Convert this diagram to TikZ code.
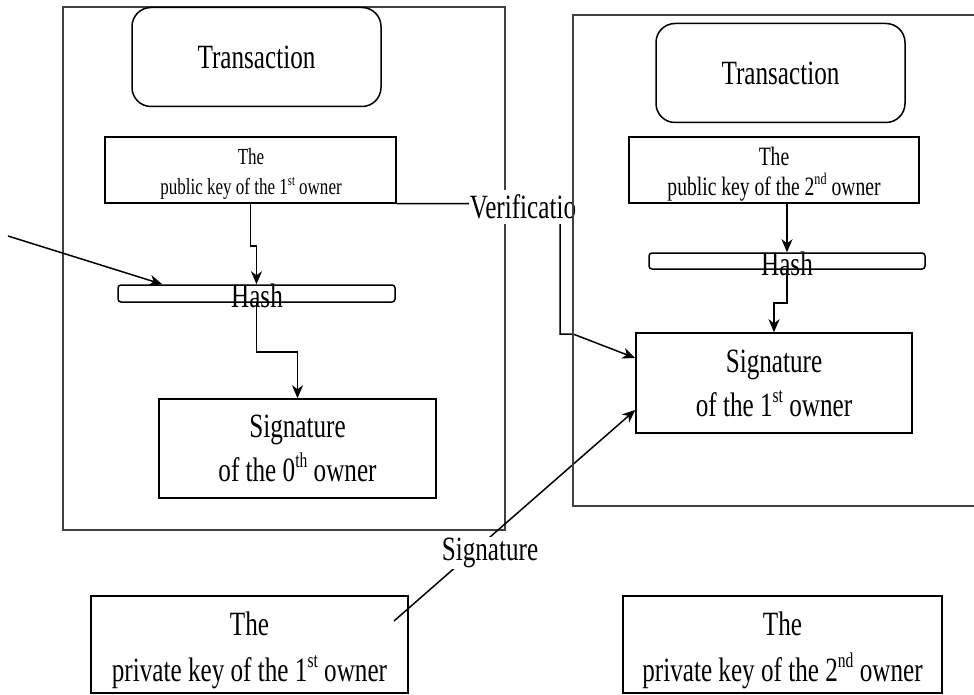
\documentclass[tikz,border=0pt]{standalone}
\usepackage{graphicx}
\usepackage{fontspec}
\setmainfont{Liberation Serif}[FakeStretch=0.74]
\usetikzlibrary{arrows.meta}
\newcommand\upx[1]{\raisebox{0.4em}{\scalebox{0.62}{#1}}}
\begin{document}
\begin{tikzpicture}[x=1pt,y=-1pt,
  frame/.style={draw=black!75, line width=1.1pt, inner sep=0pt},
  box/.style={draw, line width=1.5pt, inner sep=0pt, align=center},
  rbox/.style={box, rounded corners=19pt},
  hbox/.style={draw, line width=1.5pt, rounded corners=3pt, inner sep=0pt},
  arr/.style={line width=1.5pt, -{Stealth[length=13pt,width=11pt,inset=4pt]}},
  big/.style={font=\fontsize{34}{44}\selectfont},
  txt/.style={inner sep=0pt, align=center},
  lbl/.style={big, fill=white, inner sep=1pt}
]
\useasboundingbox (0,0) rectangle (974,695);
\node[frame, minimum width=442pt, minimum height=523pt] (outerL) at (284,268.5) {};
\node[rbox, minimum width=249pt, minimum height=99pt, big] (transL) at (256.5,57) {Transaction};
\node[rbox, minimum width=249pt, minimum height=99pt, big] (transR) at (780.5,73) {Transaction};
\node[box, minimum width=291pt, minimum height=66pt] (pubL) at (250.5,170) {};
\node[txt, font=\fontsize{23}{30}\selectfont] (pubLt) at (251,174) {The\\public key of the 1\upx{st} owner};
\node[box, minimum width=290pt, minimum height=66pt] (pubR) at (774,170) {};
\node[txt, font=\fontsize{26.5}{30}\selectfont] (pubRt) at (774,174) {The\\public key of the 2\upx{nd} owner};
\node[hbox, minimum width=277pt, minimum height=17pt] (hashL) at (256.5,293.5) {};
\node[hbox, minimum width=276pt, minimum height=16pt] (hashR) at (787,261) {};
\node[big, inner sep=0pt] (hashLt) at (257,296) {Hash};
\node[big, inner sep=0pt] (hashRt) at (787,264) {Hash};
\node[box, minimum width=277pt, minimum height=99pt, big] (sigL) at (297.5,448.5) {Signature\\of the 0\upx{th} owner};
\node[box, minimum width=276pt, minimum height=100pt, big] (sigR) at (774,383) {Signature\\of the 1\upx{st} owner};
\node[box, minimum width=317pt, minimum height=97pt] (privL) at (249.5,644.5) {};
\node[txt, font=\fontsize{34}{46}\selectfont] (privLt) at (249.5,650) {The\\private key of the 1\upx{st} owner};
\node[box, minimum width=319pt, minimum height=97pt] (privR) at (782.5,644.5) {};
\node[txt, font=\fontsize{34}{46}\selectfont] (privRt) at (782.5,650) {The\\private key of the 2\upx{nd} owner};
% connectors
\coordinate (inL) at (8,236);
\draw[arr] (inL) -- ([xshift=45pt]hashL.north west);
\draw[arr] (pubL.south) -- ++(0,42) -| (hashL.north);
\draw[arr] (hashL.south) -- ++(0,49) -| (sigL.north);
\draw[arr] (pubR.south -| hashR.north) -- (hashR.north);
\draw[arr] (hashR.south) -- ++(0,33) -| (sigR.north);
\coordinate (vb) at (560,334);
\coordinate (vb2) at (573,334);
\draw[arr] (pubL.south east) -- (vb |- pubL.south east) -- (vb) -- (vb2) -- ([yshift=25pt]sigR.west);
\node[lbl, inner ysep=5pt] (verif) at (523,207) {Verificatio};
\coordinate (sgs) at (394,621);
\draw[arr] (sgs) -- ([yshift=-27pt]sigR.west);
\node[lbl] (sglab) at (490,553) {Signature};
\node[frame, minimum width=405pt, minimum height=491pt] (outerR) at (775.5,260.5) {};
\end{tikzpicture}
\end{document}
